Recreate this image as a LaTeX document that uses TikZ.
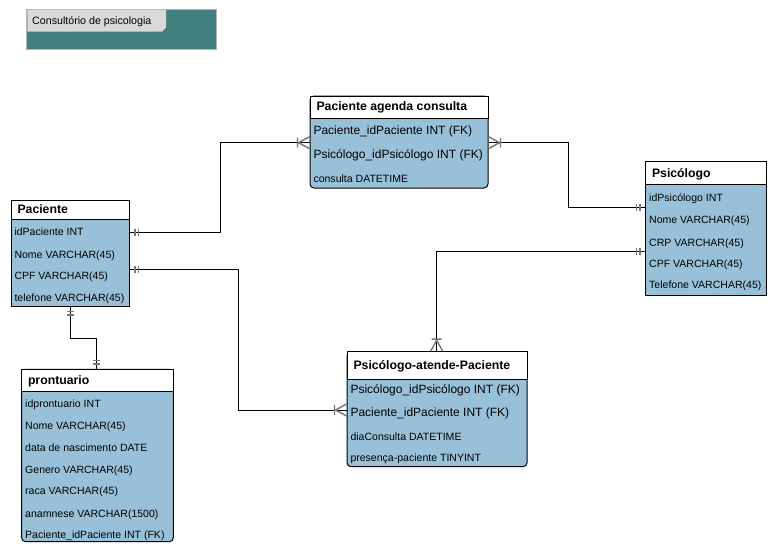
\documentclass[tikz,border=0pt]{standalone}
\usepackage{fontspec}
\setmainfont{Liberation Sans}
\usetikzlibrary{fit,calc}
\definecolor{tblblue}{RGB}{152,193,217}
\definecolor{tealbg}{RGB}{65,128,126}
\definecolor{tabgray}{RGB}{217,217,217}
\definecolor{mkgray}{RGB}{120,120,120}
\definecolor{brdgray}{RGB}{180,180,180}
\tikzset{
  pics/oneone/.style={code={\draw[mk] (5,-3.5)--(5,3.5) (8.5,-3.5)--(8.5,3.5);}},
  pics/manyone/.style={code={\draw[mk] (0,-6)--(11,0)--(0,6) (12,-5)--(12,5);}},
}
\begin{document}
\begin{tikzpicture}[x=0.75pt,y=-0.75pt, line width=0.75pt,
  body/.style={draw=black, fill=tblblue, inner sep=0pt},
  head/.style={draw=black, fill=white, inner sep=0pt},
  htxt/.style={anchor=base west, font=\fontsize{9.2}{11}\selectfont\bfseries, inner sep=0pt},
  rtxt/.style={anchor=base west, font=\fontsize{7.9}{9}\selectfont, inner sep=0pt},
  rbig/.style={anchor=base west, font=\fontsize{9}{11}\selectfont, inner sep=0pt},
  mk/.style={draw=mkgray, line width=1.1pt},
  conn/.style={draw=black, line width=0.75pt}
]
\useasboundingbox (0,0) rectangle (777,554);

% title
\node[fill=tealbg, fit={(27.3,10)(216,48.7)}, inner sep=0pt] (title) {};
\fill[tabgray] (27.3,10) -- (166,10) -- (166,27.5) -- (162,31.7) -- (27.3,31.7) -- cycle;
\draw[brdgray] (title.north west) rectangle (title.south east);
\node[anchor=base west, font=\fontsize{8}{10}\selectfont, inner sep=0pt] (ttxt) at (31.7,24.3) {Consultório de psicologia};

% connector coordinates
\coordinate (k1) at (220,142.7);
\coordinate (k2) at (568,142.7);
\coordinate (k2b) at (568,207.3);
\coordinate (k3) at (238.3,269.3);
\coordinate (k3b) at (238.3,410);
\coordinate (k4) at (436.7,251);
\coordinate (k5) at (70.7,338);
\coordinate (k5b) at (96,338);

% Paciente agenda consulta
\node[body, rounded corners=3pt, fit={(310,96)(488,188)}] (agB) {};
\node[head, fit={(310,96)(488,118)}] (agH) {};
\node[htxt] (agT) at (316,110.7) {Paciente agenda consulta};
\node[rbig] (ag1) at (313,134.3) {Paciente\_idPaciente INT (FK)};
\node[rbig] (ag2) at (313,158.6) {Psicólogo\_idPsicólogo INT (FK)};
\node[rtxt] (ag3) at (313,182.1) {consulta DATETIME};

% Paciente
\node[body, fit={(11,200)(129.5,306)}] (pacB) {};
\node[head, fit={(11,200)(129.5,219.5)}] (pacH) {};
\node[htxt] (pacT) at (17,213.7) {Paciente};
\node[rtxt] (pac1) at (14,235.5) {idPaciente INT};
\node[rtxt] (pac2) at (14,258.1) {Nome VARCHAR(45)};
\node[rtxt] (pac3) at (14,279.8) {CPF VARCHAR(45)};
\node[rtxt] (pac4) at (14,301.1) {telefone VARCHAR(45)};

% Psicologo
\node[body, fit={(645.7,161.7)(766.7,295)}] (psB) {};
\node[head, fit={(645.7,161.7)(766.7,184.3)}] (psH) {};
\node[htxt] (psT) at (651.5,177) {Psicólogo};
\node[rtxt] (ps1) at (648.7,201.5) {idPsicólogo INT};
\node[rtxt] (ps2) at (648.7,223.8) {Nome VARCHAR(45)};
\node[rtxt] (ps3) at (648.7,246.1) {CRP VARCHAR(45)};
\node[rtxt] (ps4) at (648.7,267.1) {CPF VARCHAR(45)};
\node[rtxt] (ps5) at (648.7,288.8) {Telefone VARCHAR(45)};

% prontuario
\node[body, rounded corners=3pt, fit={(21.7,369.3)(173.3,541.7)}] (prB) {};
\node[head, fit={(21.7,369.3)(173.3,391.7)}] (prH) {};
\node[htxt] (prT) at (27.5,384.5) {prontuario};
\node[rtxt] (pr1) at (24.7,407.1) {idprontuario INT};
\node[rtxt] (pr2) at (24.7,429.5) {Nome VARCHAR(45)};
\node[rtxt] (pr3) at (24.7,451.1) {data de nascimento DATE};
\node[rtxt] (pr4) at (24.7,473.8) {Genero VARCHAR(45)};
\node[rtxt] (pr5) at (24.7,494.8) {raca VARCHAR(45)};
\node[rtxt] (pr6) at (24.7,517.1) {anamnese VARCHAR(1500)};
\node[rtxt] (pr7) at (24.7,538.8) {Paciente\_idPaciente INT (FK)};

% Psicologo-atende-Paciente
\node[body, rounded corners=3pt, fit={(347,351.7)(527,466.7)}] (atB) {};
\node[head, fit={(347,351.7)(527,379)}] (atH) {};
\node[htxt] (atT) at (353,369.5) {Psicólogo-atende-Paciente};
\node[rbig] (at1) at (350,393.3) {Psicólogo\_idPsicólogo INT (FK)};
\node[rbig] (at2) at (350,416) {Paciente\_idPaciente INT (FK)};
\node[rtxt] (at3) at (350,440.5) {diaConsulta DATETIME};
\node[rtxt] (at4) at (350,461.5) {presença-paciente TINYINT};

% connectors
\draw[conn] (pacB.east |- 0,232.7) -| (k1) -- (agB.west |- k1);
\pic at (pacB.east |- 0,232.7) {oneone};
\pic[rotate=180] at (agB.west |- k1) {manyone};

\draw[conn] (agB.east |- k2) -- (k2) -- (k2b) -- (psB.west |- k2b);
\pic at (agB.east |- k2) {manyone};
\pic[rotate=180] at (psB.west |- k2b) {oneone};

\draw[conn] (pacB.east |- k3) -- (k3) -- (k3b) -- (atB.west |- k3b);
\pic at (pacB.east |- k3) {oneone};
\pic[rotate=180] at (atB.west |- k3b) {manyone};

\draw[conn] (psB.west |- k4) -- (k4) -- (k4 |- atB.north);
\pic[rotate=180] at (psB.west |- k4) {oneone};
\pic[rotate=90] at (k4 |- atB.north) {manyone};

\draw[conn] (k5 |- pacB.south) -- (k5) -- (k5b) -- (k5b |- prH.north);
\pic[rotate=-90] at (k5 |- pacB.south) {oneone};
\pic[rotate=90] at (k5b |- prH.north) {oneone};
\end{tikzpicture}
\end{document}
